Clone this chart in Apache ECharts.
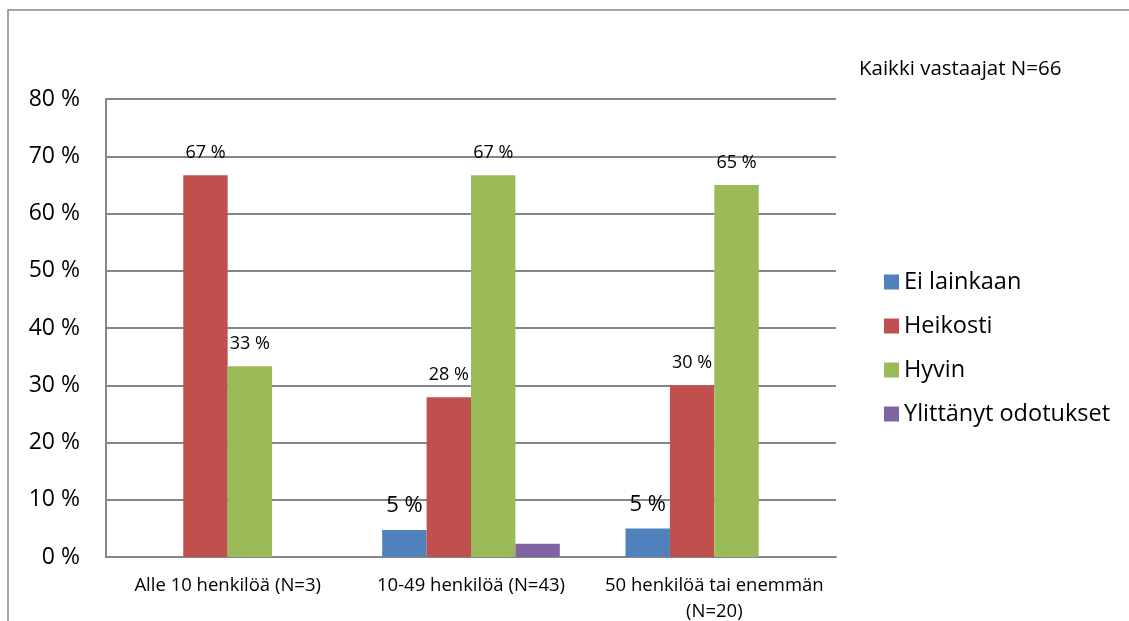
<!DOCTYPE html>
<html>
<head>
<meta charset="UTF-8">
<title>Kaikki vastaajat</title>
<style>
  html, body { margin: 0; padding: 0; background: #fff; }
  #chart { width: 1129px; height: 621px; }
</style>
</head>
<body>
<div id="chart"></div>
<script src="https://cdn.jsdelivr.net/npm/echarts@6/dist/echarts.min.js"></script>
<script>
var categories = ['Alle 10 henkilöä (N=3)', '10-49 henkilöä (N=43)', '50 henkilöä tai enemmän\n(N=20)'];
var seriesNames = ['Ei lainkaan', 'Heikosti', 'Hyvin', 'Ylittänyt odotukset'];
var eiLainkaan = [0, 4.7, 5.0];
var heikosti = [66.7, 27.9, 30.0];
var hyvin = [33.3, 66.7, 65.0];
var ylittanyt = [0, 2.3, 0];
var colors = ['#4F81BD', '#C0504D', '#9BBB59', '#8064A2'];
var yTicks = [0, 10, 20, 30, 40, 50, 60, 70, 80];

var FONT = '"Open Sans", sans-serif';

var chart = echarts.init(document.getElementById('chart'));

function makeSeries(name, values, color, labelSize, showLabel) {
  return {
    name: name,
    type: 'bar',
    data: values,
    barGap: '0%',
    barCategoryGap: '27%',
    itemStyle: { color: color },
    label: {
      show: showLabel,
      position: 'top',
      distance: 13,
      color: '#000',
      fontFamily: FONT,
      fontSize: labelSize,
      formatter: function (p) {
        return p.value > 0 ? Math.round(p.value) + ' %' : '';
      }
    }
  };
}

var option = {
  animation: false,
  textStyle: { fontFamily: FONT },
  graphic: [
    {
      type: 'rect',
      shape: { x: 8, y: 10, width: 1200, height: 700 },
      style: { fill: 'none', stroke: '#888', lineWidth: 1.5 },
      silent: true
    },
    {
      type: 'text',
      left: 859,
      top: 59,
      style: { text: 'Kaikki vastaajat N=66', font: '20.5px ' + FONT, fill: '#000' }
    }
  ],
  legend: {
    orient: 'vertical',
    left: 879,
    top: 265,
    itemWidth: 15,
    itemHeight: 15,
    itemGap: 20,
    icon: 'rect',
    textStyle: { fontSize: 23.5, fontFamily: FONT, color: '#000' },
    data: seriesNames
  },
  grid: { left: 106, top: 99, width: 730, height: 458, containLabel: false, outerBoundsMode: 'none' },
  xAxis: {
    type: 'category',
    data: categories,
    axisLine: { lineStyle: { color: '#868686', width: 2 } },
    axisTick: { show: false },
    axisLabel: { interval: 0, hideOverlap: false, fontSize: 18.5, fontFamily: FONT, color: '#000', margin: 16, lineHeight: 26 }
  },
  yAxis: {
    type: 'value',
    min: yTicks[0],
    max: yTicks[yTicks.length - 1],
    interval: 10,
    axisLine: { show: true, lineStyle: { color: '#868686', width: 2 } },
    axisTick: { show: false },
    splitLine: { lineStyle: { color: '#868686', width: 2 } },
    axisLabel: { fontSize: 23, fontFamily: FONT, color: '#000', margin: 26, formatter: '{value} %' }
  },
  series: [
    makeSeries(seriesNames[0], eiLainkaan, colors[0], 22, true),
    makeSeries(seriesNames[1], heikosti, colors[1], 18, true),
    makeSeries(seriesNames[2], hyvin, colors[2], 18, true),
    makeSeries(seriesNames[3], ylittanyt, colors[3], 18, false)
  ]
};

chart.setOption(option);
</script>
</body>
</html>
